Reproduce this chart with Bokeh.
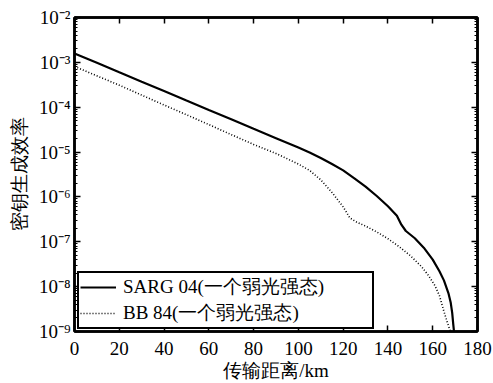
from bokeh.plotting import figure
from bokeh.models import (Range1d, LinearAxis, LogAxis, CustomJSTickFormatter,
                          FixedTicker, LogTicker, Legend, LegendItem)
from bokeh.embed import file_html
from bokeh.resources import INLINE

# ---- data ----
dist_sarg = [0, 10, 20, 30, 40, 50, 60, 70, 80, 90, 100, 105, 110, 115, 120, 125,
             130, 135, 140, 144, 146, 148, 152, 156, 160, 163, 165, 167, 168, 168.7,
             169.2, 169.5]
rate_sarg = [1.58e-3, 9.8e-4, 6.0e-4, 3.7e-4, 2.3e-4, 1.41e-4, 8.7e-5, 5.4e-5, 3.3e-5,
             2.04e-5, 1.26e-5, 9.8e-6, 7.4e-6, 5.4e-6, 3.9e-6, 2.6e-6, 1.7e-6, 1.05e-6,
             6.2e-7, 3.8e-7, 2.4e-7, 1.74e-7, 1.2e-7, 7.4e-8, 4.0e-8, 2.2e-8, 1.38e-8,
             7.2e-9, 4.5e-9, 2.6e-9, 1.4e-9, 1.0e-9]

dist_bb = [0, 10, 20, 30, 40, 50, 60, 70, 80, 90, 100, 105, 110, 115, 120, 123, 126,
           130, 135, 140, 145, 150, 155, 158, 161, 163, 165, 166.5, 167.9]
rate_bb = [8.1e-4, 5.0e-4, 3.1e-4, 1.86e-4, 1.12e-4, 6.8e-5, 4.1e-5, 2.45e-5, 1.48e-5,
           9.3e-6, 5.4e-6, 3.9e-6, 2.4e-6, 1.26e-6, 6.0e-7, 3.4e-7, 2.75e-7, 2.24e-7,
           1.66e-7, 1.17e-7, 7.8e-8, 4.9e-8, 2.8e-8, 1.8e-8, 1.05e-8, 6.3e-9, 2.8e-9,
           1.6e-9, 1.0e-9]

x_ticks = [0, 20, 40, 60, 80, 100, 120, 140, 160, 180]
y_min, y_max = 1e-9, 1e-2
series_labels = ["SARG 04(一个弱光强态)", "BB 84(一个弱光强态)"]
x_label = "传输距离/km"
y_label = "密钥生成效率"

FONT = "Liberation Serif"
FS = "19px"

p = figure(width=493, height=383, x_range=Range1d(0, 180), y_range=Range1d(y_min, y_max),
           y_axis_type="log", output_backend="svg", toolbar_location=None,
           min_border_left=74, min_border_right=16, min_border_top=17, min_border_bottom=51)
p.background_fill_color = "white"
p.border_fill_color = "white"
p.outline_line_color = "black"
p.outline_line_width = 2.5
p.xgrid.visible = False
p.ygrid.visible = False

sup_js = """
const sup = {"-":"\u207b","0":"\u2070","1":"\u00b9","2":"\u00b2","3":"\u00b3","4":"\u2074",
             "5":"\u2075","6":"\u2076","7":"\u2077","8":"\u2078","9":"\u2079"};
const e = Math.round(Math.log10(tick));
return "10" + String(e).split("").map(c => sup[c]).join("");
"""

def style_axis(ax, labels=True):
    ax.axis_line_color = "black"
    ax.axis_line_width = 2.5
    ax.major_tick_in = 6
    ax.major_tick_out = 0
    ax.major_tick_line_width = 1.5
    ax.minor_tick_in = 3
    ax.minor_tick_out = 0
    ax.minor_tick_line_width = 1
    ax.major_label_text_font = FONT
    ax.major_label_text_font_size = FS if labels else "0px"
    ax.major_label_text_color = "black"
    ax.axis_label_text_font = FONT
    ax.axis_label_text_font_size = FS
    ax.axis_label_text_font_style = "normal"
    ax.axis_label_text_color = "black"

# bottom axis
xa = p.xaxis[0]
xa.ticker = FixedTicker(ticks=x_ticks)
style_axis(xa)
xa.major_label_standoff = 10
xa.axis_label = x_label
xa.axis_label_standoff = 2

# left axis
ya = p.yaxis[0]
ya.ticker = LogTicker(num_minor_ticks=10)
ya.formatter = CustomJSTickFormatter(code=sup_js)
style_axis(ya)
ya.major_label_standoff = 4
ya.axis_label = y_label
ya.axis_label_standoff = 6

# top axis
ta = LinearAxis(ticker=FixedTicker(ticks=x_ticks),
                formatter=CustomJSTickFormatter(code="return ''"))
style_axis(ta, labels=False)
ta.major_label_standoff = 0
p.add_layout(ta, "above")

# right axis
ra = LogAxis(ticker=LogTicker(num_minor_ticks=10),
             formatter=CustomJSTickFormatter(code="return ''"))
style_axis(ra, labels=False)
ra.major_label_standoff = 0
p.add_layout(ra, "right")

r1 = p.line(dist_sarg, rate_sarg, line_color="black", line_width=2.2)
r2 = p.line(dist_bb, rate_bb, line_color="black", line_width=1.6, line_dash="1 2")

legend = Legend(items=[LegendItem(label=series_labels[0], renderers=[r1]),
                       LegendItem(label=series_labels[1], renderers=[r2])],
                location=(3, 2))
legend.border_line_color = "black"
legend.border_line_alpha = 1
legend.border_line_width = 2.5
legend.background_fill_color = "white"
legend.background_fill_alpha = 1
legend.label_text_font = FONT
legend.label_text_font_size = FS
legend.label_text_color = "black"
legend.label_text_line_height = 1.0
legend.glyph_width = 36
legend.glyph_height = 20
legend.label_height = 20
legend.label_standoff = 7
legend.label_width = 248
legend.padding = 1
legend.spacing = 0
legend.margin = 0
p.add_layout(legend)

open("out.html", "w").write(file_html(p, INLINE))
